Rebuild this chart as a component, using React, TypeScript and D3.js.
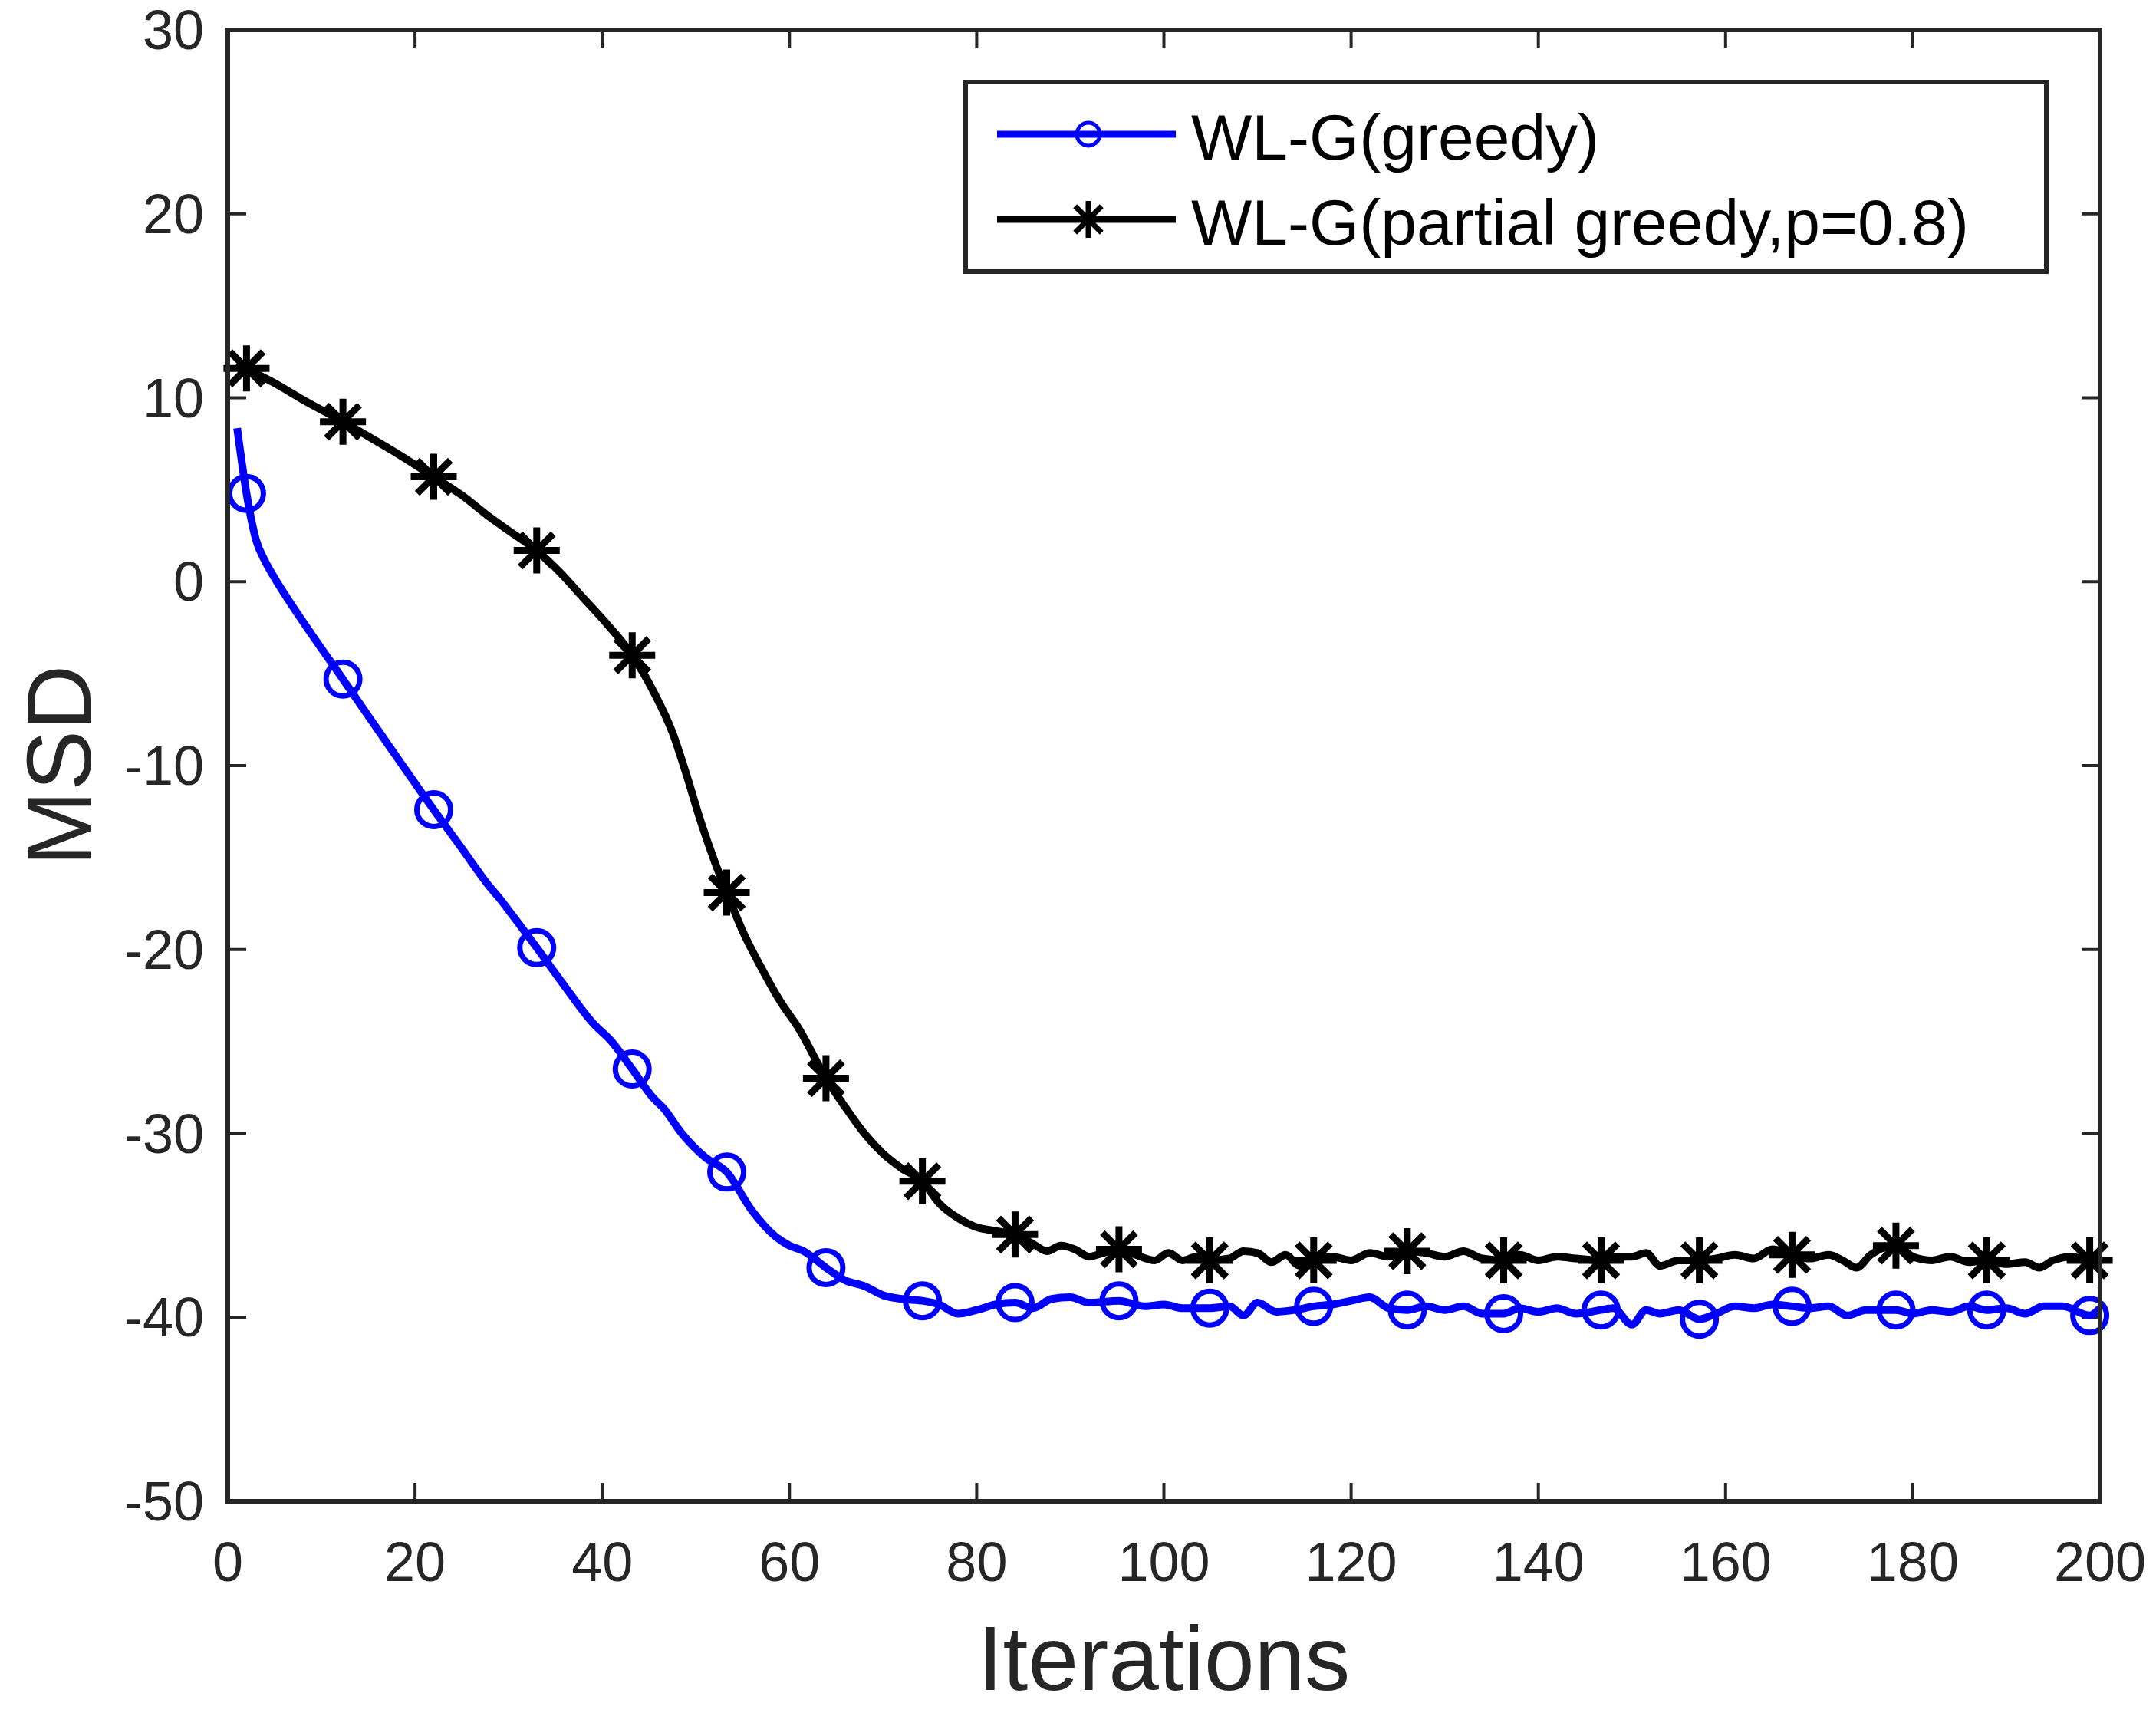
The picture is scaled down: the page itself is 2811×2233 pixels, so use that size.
// MSD vs iterations, WL-G greedy vs partial greedy
import * as d3 from "d3"

// WL-G(greedy) learning curve
const greedyIter = [
  1, 2, 3, 4, 5, 7, 9, 12.3, 15, 18, 22, 25, 28, 29, 30.5, 33, 36, 39, 41, 43.2,
  45.5, 46.5, 48.5, 51, 53.3, 56, 58.5, 60, 61.5, 63.9, 66, 68, 70, 72, 74.2, 76, 78, 80, 82, 84.1,
  86, 88, 90, 92, 95.2, 98, 100, 102, 104.9, 107, 108.5, 110, 112, 114, 116, 118, 120, 122, 124, 126,
  128, 130, 132, 134, 136.3, 138, 140, 142, 144, 146.7, 148, 150, 151.5, 153, 155, 157.2, 159, 161, 163, 165,
  167.1, 169, 171, 173, 175, 178.2, 180, 182, 184, 186, 187.9, 190, 192, 194, 196, 198.9, 200,
]
const greedyMsd = [
  8.35, 4.8, 2.3, 1.1, 0.2, -1.4, -2.9, -5.3, -7.3, -9.5, -12.4, -14.5, -16.6, -17.2, -18.2, -19.9, -22.0, -24.0, -25.0, -26.5,
  -28.1, -28.6, -30.0, -31.3, -32.1, -34.2, -35.6, -36.1, -36.4, -37.3, -38.0, -38.3, -38.8, -39.0, -39.1, -39.3, -39.8, -39.6, -39.3, -39.2,
  -39.5, -39.0, -38.9, -39.2, -39.1, -39.4, -39.3, -39.5, -39.5, -39.4, -39.9, -39.2, -39.7, -39.6, -39.4, -39.3, -39.1, -38.9, -39.5, -39.6,
  -39.4, -39.6, -39.4, -39.8, -39.8, -39.5, -39.7, -39.5, -39.8, -39.6, -39.5, -40.4, -39.6, -39.8, -39.6, -40.1, -39.8, -39.4, -39.5, -39.3,
  -39.4, -39.5, -39.4, -39.9, -39.6, -39.6, -39.8, -39.6, -39.7, -39.4, -39.6, -39.5, -39.8, -39.4, -39.4, -39.9, -39.5,
]

// WL-G(partial greedy, p=0.8) learning curve
const partialIter = [
  1, 2, 5, 8, 12.3, 15, 18, 22, 25, 28, 30.5, 33, 35.5, 38, 40.5, 43.2, 45.5, 47.5, 49, 50.5,
  52, 53.3, 55, 57, 59, 61, 63.9, 66, 68, 70, 72, 74.2, 76, 78, 80, 82, 84.1, 86, 87.5, 89,
  90.5, 92, 93.5, 95.2, 97, 99, 100.5, 102, 103.5, 104.9, 107, 108.5, 110, 111.5, 113, 114.5, 116, 118, 120, 122,
  124, 126, 128, 130, 132, 134, 136.3, 138, 140, 142, 144, 146.7, 148, 150, 151.5, 153, 155, 157.2, 159, 161,
  163, 165, 167.1, 169, 171, 172.5, 174, 175.5, 178.2, 180, 182, 184, 186, 187.9, 190, 192, 193.5, 195, 197, 198.9, 200,
]
const partialMsd = [
  11.9, 11.6, 10.8, 9.9, 8.7, 7.9, 7.0, 5.7, 4.7, 3.5, 2.6, 1.7, 0.5, -0.9, -2.3, -4.0, -6.0, -8.2, -10.5, -13.0,
  -15.2, -16.9, -19.0, -21.0, -22.8, -24.3, -27.0, -28.6, -30.0, -31.1, -31.9, -32.6, -33.8, -34.6, -35.1, -35.3, -35.5, -36.0, -36.4, -36.1,
  -36.3, -36.7, -36.5, -36.3, -36.6, -36.9, -36.5, -36.9, -36.7, -36.9, -36.8, -36.4, -36.5, -37.0, -36.6, -37.2, -36.9, -36.7, -36.9, -36.5,
  -36.7, -36.4, -36.5, -36.7, -36.4, -36.8, -36.9, -36.6, -36.9, -36.7, -36.8, -36.9, -36.7, -36.7, -36.5, -37.2, -36.9, -36.9, -36.8, -36.6,
  -36.8, -36.3, -36.6, -36.8, -36.6, -36.9, -37.3, -36.6, -36.1, -36.7, -36.9, -36.7, -37.0, -36.9, -37.1, -37.0, -37.3, -36.9, -36.7, -36.9, -36.7,
]

// iterations where the markers sit (same for both curves)
const markerIter = [2, 12.3, 22, 33, 43.2, 53.3, 63.9, 74.2, 84.1, 95.2, 104.9, 116, 126, 136.3, 146.7, 157.2, 167.1, 178.2, 187.9, 198.9]

const xTicks = [0, 20, 40, 60, 80, 100, 120, 140, 160, 180, 200]
const yTicks = [-50, -40, -30, -20, -10, 0, 10, 20, 30]

const legendLabels = ["WL-G(greedy)", "WL-G(partial greedy,p=0.8)"]

const W = 2811
const H = 2233
const margin = { left: 297, right: W - 2738, top: 39, bottom: H - 1957 }
const FONT = "'Liberation Sans', Arial, Helvetica, sans-serif"
const AXIS = "#262626"

const x = d3.scaleLinear().domain([0, 200]).range([margin.left, W - margin.right])
const y = d3.scaleLinear().domain([-50, 30]).range([H - margin.bottom, margin.top])

const line = d3.line<[number, number]>()
  .x(d => x(d[0]))
  .y(d => y(d[1]))
  .curve(d3.curveMonotoneX)

function starPath(cx: number, cy: number, r: number) {
  const d = r * 0.72
  return `M${cx - r},${cy}H${cx + r}M${cx},${cy - r}V${cy + r}` +
    `M${cx - d},${cy - d}L${cx + d},${cy + d}M${cx - d},${cy + d}L${cx + d},${cy - d}`
}

export default function App() {
  const greedy = greedyIter.map((t, i) => [t, greedyMsd[i]] as [number, number])
  const partial = partialIter.map((t, i) => [t, partialMsd[i]] as [number, number])
  const pick = (pts: [number, number][]) =>
    markerIter.map(t => pts.find(p => p[0] === t)!).filter(Boolean)

  const x0 = x.range()[0], x1 = x.range()[1]
  const y0 = y.range()[0], y1 = y.range()[1]
  const tickLen = 24

  // legend geometry
  const lg = { x: 1259, y: 107, w: 2668 - 1259, h: 354 - 107 }
  const rows = [175, 286]

  return (
    <svg width={W} height={H} style={{ position: "absolute", left: 0, top: 0, background: "#fff" }}
      fontFamily={FONT}>
      <rect x={0} y={0} width={W} height={H} fill="#fff" />

      {/* ticks */}
      <g stroke={AXIS} strokeWidth={4}>
        {xTicks.map(t => (
          <g key={"xt" + t}>
            <line x1={x(t)} x2={x(t)} y1={y0} y2={y0 - tickLen} />
            <line x1={x(t)} x2={x(t)} y1={y1} y2={y1 + tickLen} />
          </g>
        ))}
        {yTicks.map(t => (
          <g key={"yt" + t}>
            <line x1={x0} x2={x0 + tickLen} y1={y(t)} y2={y(t)} />
            <line x1={x1} x2={x1 - tickLen} y1={y(t)} y2={y(t)} />
          </g>
        ))}
      </g>

      {/* tick labels */}
      <g fill={AXIS} fontSize={72}>
        {xTicks.map(t => (
          <text key={"xl" + t} x={x(t)} y={2061} textAnchor="middle">{t}</text>
        ))}
        {yTicks.map(t => (
          <text key={"yl" + t} x={266} y={y(t) + 25} textAnchor="end">{t}</text>
        ))}
      </g>

      {/* axis labels */}
      <text x={(x0 + x1) / 2} y={2203} textAnchor="middle" fontSize={118} fill={AXIS}>Iterations</text>
      <text transform={`translate(118,${(y0 + y1) / 2}) rotate(-90)`} textAnchor="middle" fontSize={118} fill={AXIS}>MSD</text>

      {/* curves */}
      <path d={line(greedy)!} fill="none" stroke="#0000ff" strokeWidth={10} strokeLinejoin="round" />
      <path d={line(partial)!} fill="none" stroke="#000" strokeWidth={10} strokeLinejoin="round" />

      {pick(greedy).map((p, i) => (
        <circle key={"gm" + i} cx={x(p[0])} cy={y(p[1])} r={22} fill="none" stroke="#0000ff" strokeWidth={7} />
      ))}
      {pick(partial).map((p, i) => (
        <path key={"pm" + i} d={starPath(x(p[0]), y(p[1]), 30)} fill="none" stroke="#000" strokeWidth={9} />
      ))}

      {/* axes box */}
      <rect x={x0} y={y1} width={x1 - x0} height={y0 - y1} fill="none" stroke={AXIS} strokeWidth={6} />

      {/* legend */}
      <rect x={lg.x} y={lg.y} width={lg.w} height={lg.h} fill="#fff" stroke={AXIS} strokeWidth={6} />
      <line x1={1300} x2={1533} y1={rows[0]} y2={rows[0]} stroke="#0000ff" strokeWidth={9} />
      <circle cx={1419} cy={rows[0]} r={15} fill="none" stroke="#0000ff" strokeWidth={5} />
      <line x1={1300} x2={1533} y1={rows[1]} y2={rows[1]} stroke="#000" strokeWidth={9} />
      <path d={starPath(1419, rows[1], 24)} fill="none" stroke="#000" strokeWidth={7} />
      <text x={1553} y={208} fontSize={84} fill="#000">{legendLabels[0]}</text>
      <text x={1553} y={319} fontSize={84} fill="#000">{legendLabels[1]}</text>
    </svg>
  )
}
